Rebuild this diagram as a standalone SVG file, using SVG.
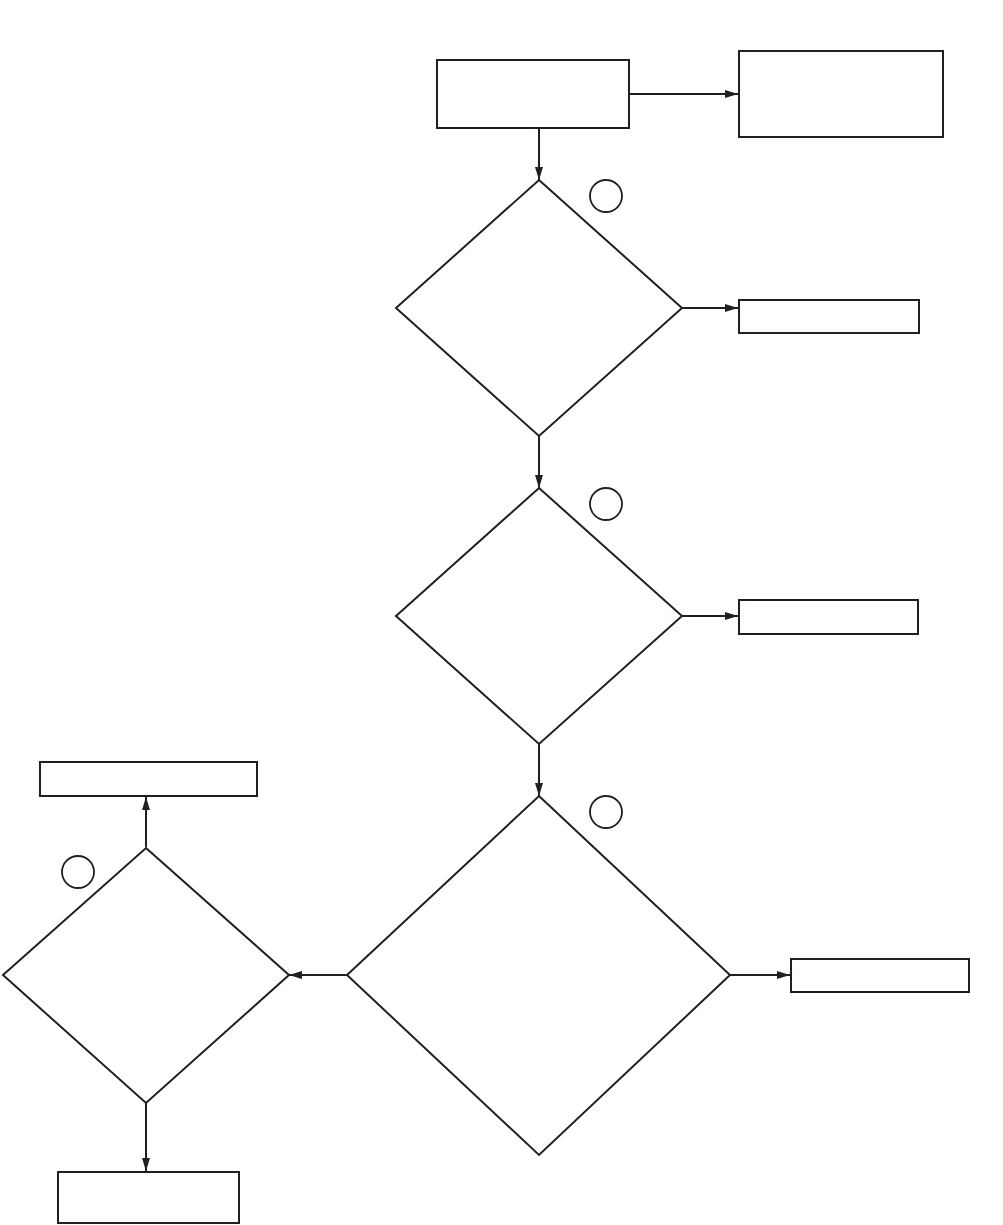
<svg xmlns="http://www.w3.org/2000/svg" width="1003" height="1225" viewBox="0 0 1003 1225">
<style>
.n{fill:#fff;stroke:#231f20;stroke-width:2}
.c{fill:none;stroke:#231f20;stroke-width:1.8}
.e{fill:none;stroke:#231f20;stroke-width:2}
</style>
<defs>
<marker id="ah" markerUnits="userSpaceOnUse" markerWidth="14" markerHeight="10" refX="13" refY="5" orient="auto">
<path d="M0,1 L13,5 L0,9 Z" fill="#231f20"/>
</marker>
</defs>
<rect width="1003" height="1225" fill="#fff"/>
<g id="connectors">
<line class="e" x1="629" y1="94" x2="738" y2="94" marker-end="url(#ah)"/>
<line class="e" x1="539" y1="128" x2="539" y2="180" marker-end="url(#ah)"/>
<line class="e" x1="682" y1="308" x2="738" y2="308" marker-end="url(#ah)"/>
<line class="e" x1="539" y1="436" x2="539" y2="488" marker-end="url(#ah)"/>
<line class="e" x1="682" y1="616" x2="738" y2="616" marker-end="url(#ah)"/>
<line class="e" x1="539" y1="744" x2="539" y2="796" marker-end="url(#ah)"/>
<line class="e" x1="730" y1="975" x2="790" y2="975" marker-end="url(#ah)"/>
<line class="e" x1="347" y1="975" x2="289" y2="975" marker-end="url(#ah)"/>
<line class="e" x1="146" y1="847" x2="146" y2="797" marker-end="url(#ah)"/>
<line class="e" x1="146" y1="1103" x2="146" y2="1171" marker-end="url(#ah)"/>
</g>
<g id="start"><rect class="n" x="437" y="60" width="192" height="68"/></g>
<g id="box-top-right"><rect class="n" x="739" y="51" width="204" height="86"/></g>
<g id="d1"><polygon class="n" points="539,180 682,308 539,436 396,308"/></g>
<g id="c1"><circle class="c" cx="606" cy="196" r="16"/></g>
<g id="r1"><rect class="n" x="739" y="300" width="180" height="33"/></g>
<g id="d2"><polygon class="n" points="539,488 682,616 539,744 396,616"/></g>
<g id="c2"><circle class="c" cx="606" cy="504" r="16"/></g>
<g id="r2"><rect class="n" x="739" y="600" width="179" height="34"/></g>
<g id="d3"><polygon class="n" points="539,796 730,975 539,1155 347,975"/></g>
<g id="c3"><circle class="c" cx="606" cy="812" r="16"/></g>
<g id="r3"><rect class="n" x="791" y="959" width="178" height="33"/></g>
<g id="d4"><polygon class="n" points="146,848 289,975 146,1103 3,975"/></g>
<g id="c4"><circle class="c" cx="78" cy="872" r="16"/></g>
<g id="r4"><rect class="n" x="40" y="762" width="217" height="34"/></g>
<g id="r5"><rect class="n" x="58" y="1172" width="181" height="51"/></g>
</svg>
